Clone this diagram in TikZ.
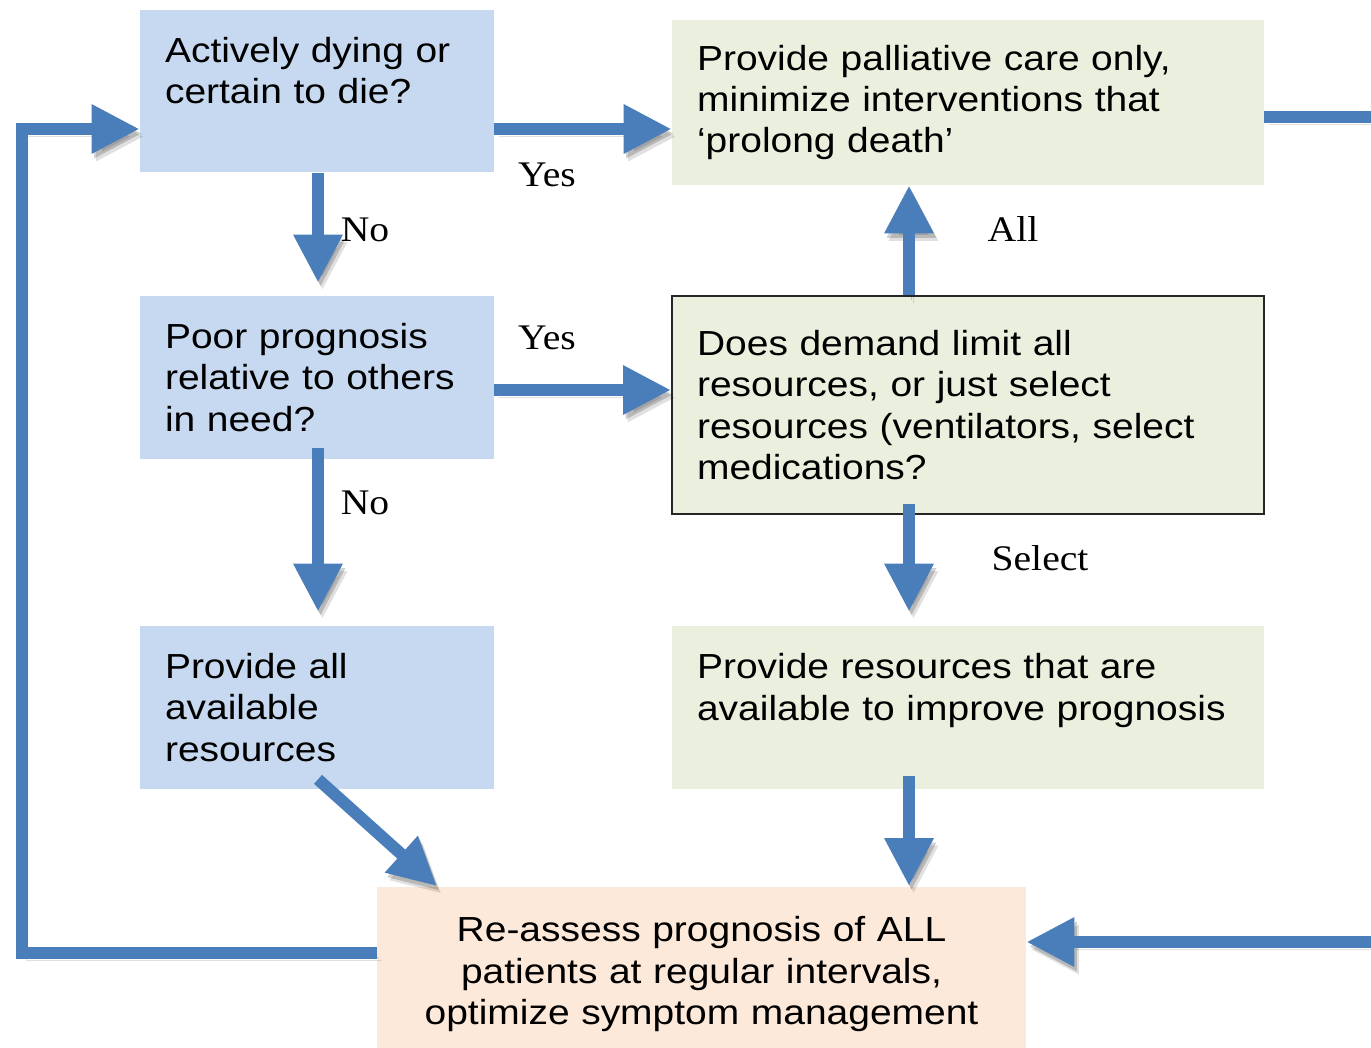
\documentclass[tikz,border=0pt]{standalone}
\usepackage{fontspec}
\usepackage{tikz}
\usetikzlibrary{arrows.meta,calc}

\newfontfamily\boxfont[FakeStretch=1.12]{Liberation Sans}
\newfontfamily\answerfont[FakeStretch=1.1]{Liberation Serif}

\definecolor{boxblue}{HTML}{C6D9F0}
\definecolor{boxgreen}{HTML}{EBF0DE}
\definecolor{boxpeach}{HTML}{FDE9D9}
\definecolor{flowblue}{HTML}{4A7EBB}

\begin{document}
\begin{tikzpicture}[x=0.02cm, y=-0.02cm,
    bluebox/.style={rectangle, fill=boxblue, minimum width=7.08cm, minimum height=3.26cm,
        text width=6.08cm, inner xsep=0.5cm, inner ysep=0pt, align=left,
        font=\boxfont\fontsize{19.8}{23.5}\selectfont},
    greenbox/.style={bluebox, fill=boxgreen, minimum width=11.84cm, text width=10.84cm},
    flowline/.style={line width=0.24cm, draw=flowblue,
        preaction={draw=black, opacity=0.12, transform canvas={shift={(0.09cm,-0.15cm)}}},
        preaction={draw=black, opacity=0.18, transform canvas={shift={(0.05cm,-0.09cm)}}}},
    flow/.style={flowline, -{Triangle[length=0.96cm,width=0.92cm]}},
    answer/.style={font=\answerfont\fontsize{20.5}{24}\selectfont, inner sep=0pt}]
    \useasboundingbox (0,0) rectangle (1371,1047);

    % boxes
    \node (dying) [bluebox] at (317,91) {Actively dying or\\certain to die?\\\mbox{}};
    \node (palliative) [greenbox, minimum height=3.3cm] at (968,102.5) {Provide palliative care only,\\minimize interventions that\\‘prolong death’};
    \node (poor) [bluebox] at (317,377.5) {Poor prognosis\\relative to others\\in need?};
    \node (demand) [greenbox, minimum height=4.36cm, draw=black!85, line width=1.1pt] at (968,405) {Does demand limit all\\resources, or just select\\resources (ventilators, select\\medications?};
    \node (allres) [bluebox] at (317,707.5) {Provide all\\available\\resources};
    \node (selres) [greenbox] at (968,707.5) {Provide resources that are\\available to improve prognosis\\\mbox{}};
    \node (reassess) [bluebox, fill=boxpeach, minimum width=12.98cm, minimum height=3.5cm, text width=11.98cm, align=center] at (701.5,974) {Re-assess prognosis of ALL\\patients at regular intervals,\\optimize symptom management};

    % loop back and off-page ends
    \coordinate (loopbot) at (22,953);
    \coordinate (looptop) at (22,129);
    \coordinate (outright) at (1380,117);
    \coordinate (inright) at (1380,942);

    % connectors
    \draw [flow] (dying.east |- 0,129) -- (palliative.west |- 0,129);
    \draw [flow] ($(dying.south)+(1,0)$) -- ($(poor.north)+(1,-13)$);
    \draw [flow] (poor.east |- 0,390) -- (demand.west |- 0,390);
    \draw [flow] ($(poor.south)+(1,-11)$) -- ($(allres.north)+(1,-14)$);
    \draw [flow] (demand.north -| 909,0) -- (palliative.south -| 909,0);
    \draw [flow] ($(demand.south -| 909,0)+(0,-11)$) -- ($(selres.north -| 909,0)+(0,-14)$);
    \draw [flow] ($(allres.south)+(1,-10)$) -- (reassess.north -| 437,0);
    \draw [flow] ($(selres.south -| 909,0)+(0,-13)$) -- (reassess.north -| 909,0);
    \draw [flow] (reassess.west |- 0,953) -- (loopbot) -- (looptop) -- (dying.west |- 0,129);
    \draw [flowline] (palliative.east |- 0,117) -- (outright);
    \draw [flow] (inright) -- (reassess.east |- 0,942);

    % answers
    \node (yesdying) [answer] at (547,175) {Yes};
    \node (nodying) [answer] at (365,230) {No};
    \node (yespoor) [answer] at (547,338) {Yes};
    \node (nopoor) [answer] at (365,503) {No};
    \node (alllimit) [answer] at (1013,229) {All};
    \node (selectlimit) [answer] at (1040,558) {Select};
\end{tikzpicture}
\end{document}
